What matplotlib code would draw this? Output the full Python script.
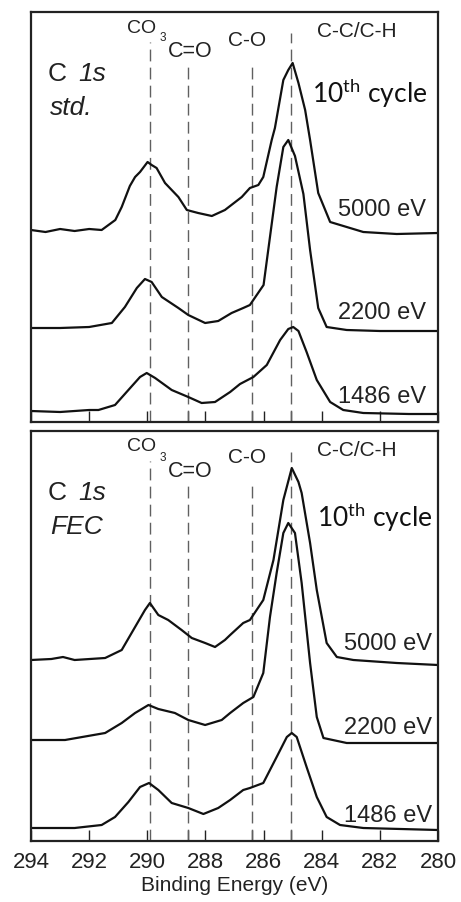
import numpy as np
import matplotlib
matplotlib.use("Agg")
import matplotlib.pyplot as plt

plt.rcParams['font.family'] = ['Liberation Sans', 'DejaVu Sans']
plt.rcParams['mathtext.fontset'] = 'custom'
plt.rcParams['mathtext.rm'] = 'Lato'
plt.rcParams['lines.scale_dashes'] = False

# ---- top panel (std.) : binding energy (eV) / intensity (a.u.)
be_std_5000 = [294.0, 293.5, 293.0, 292.5, 292.0, 291.57, 291.1, 290.88, 290.6, 290.42, 290.25,
               289.99, 289.85, 289.68, 289.39, 288.93, 288.64, 288.25, 287.78, 287.33, 286.75,
               286.47, 286.18, 286.01, 285.72, 285.61, 285.32, 285.15, 285.0, 284.8, 284.57,
               284.4, 284.12, 283.71, 283.14, 282.57, 281.42, 280.0]
int_std_5000 = [192, 190, 193, 191, 193, 192, 202, 215, 236, 245, 250,
                260, 257, 254, 239, 225, 212, 209, 206, 212, 225,
                234, 237, 245, 282, 294, 342, 352, 359, 339, 312,
                282, 229, 200, 195, 190, 188, 189]

be_std_2200 = [294.0, 293.0, 292.0, 291.22, 290.77, 290.36, 290.08, 289.85, 289.5, 288.93, 288.59,
               288.01, 287.56, 287.1, 286.7, 286.47, 286.0, 285.78, 285.55, 285.32, 285.15,
               284.92, 284.63, 284.4, 284.12, 283.83, 283.14, 282.0, 280.0]
int_std_2200 = [94, 94, 95, 99, 115, 134, 143, 140, 125, 114, 107,
                99, 101, 109, 114, 117, 137, 185, 235, 275, 282,
                266, 228, 172, 114, 95, 92, 91, 91]

be_std_1486 = [294.0, 293.0, 292.0, 291.68, 291.11, 290.65, 290.25, 290.02, 289.73, 289.16, 288.59,
               288.13, 287.67, 287.15, 286.81, 286.35, 285.89, 285.43, 285.15, 284.98, 284.8,
               284.52, 284.17, 283.71, 283.26, 282.57, 281.0, 280.0]
int_std_1486 = [11, 10, 12, 12, 17, 32, 45, 49, 44, 32, 25,
                19, 20, 30, 38, 45, 57, 82, 93, 95, 91,
                70, 42, 20, 12, 9, 8, 8]

# ---- bottom panel (FEC)
be_fec_5000 = [294.0, 293.3, 292.9, 292.5, 291.45, 290.88, 290.42, 290.08, 289.91, 289.62, 289.28,
               288.82, 288.47, 288.01, 287.67, 287.33, 287.15, 286.7, 286.47, 286.01, 285.66,
               285.32, 285.03, 284.8, 284.69, 284.4, 284.17, 283.83, 283.48, 282.91, 281.42, 280.0]
int_fec_5000 = [181, 182, 184, 181, 183, 191, 214, 231, 238, 226, 221,
                211, 203, 198, 194, 201, 206, 218, 221, 241, 281,
                341, 373, 359, 348, 298, 251, 198, 184, 181, 178, 176]

be_fec_2200 = [294.0, 292.83, 291.45, 290.88, 290.42, 289.96, 289.62, 289.05, 288.59, 288.01,
               287.44, 287.15, 286.7, 286.35, 286.01, 285.78, 285.55, 285.32, 285.15, 284.92,
               284.69, 284.4, 284.17, 283.94, 283.14, 280.0]
int_fec_2200 = [101, 101, 108, 118, 128, 136, 132, 128, 121, 116,
                121, 128, 138, 144, 168, 224, 268, 308, 318, 308,
                258, 178, 124, 103, 98, 98]

be_fec_1486 = [294.0, 292.5, 291.57, 291.11, 290.65, 290.25, 289.94, 289.62, 289.16, 288.59,
               288.07, 287.56, 287.15, 286.7, 286.47, 286.01, 285.55, 285.2, 285.03, 284.86,
               284.52, 284.17, 283.83, 283.37, 282.57, 280.0]
int_fec_1486 = [13, 13, 16, 24, 39, 54, 58, 51, 38, 33,
                27, 33, 41, 51, 53, 58, 84, 104, 108, 104,
                74, 44, 24, 16, 13, 11]

# reference positions of the components
peak_pos = [289.9, 288.6, 286.4, 285.05]
peak_top = [380, 359, 359, 389]
energies = ['5000 eV', '2200 eV', '1486 eV']

fig = plt.figure(figsize=(4.61, 9.02), dpi=100)
ax1 = fig.add_axes([31 / 461, 1 - 422 / 902, 407 / 461, 410 / 902])
ax2 = fig.add_axes([31 / 461, 1 - 841 / 902, 407 / 461, 410 / 902])

panels = [
    (ax1, [(be_std_5000, int_std_5000), (be_std_2200, int_std_2200), (be_std_1486, int_std_1486)],
     'std.', [206, 103, 19], 280.41, (284.33, 319), [389, 384, 365, 376, 385]),
    (ax2, [(be_fec_5000, int_fec_5000), (be_fec_2200, int_fec_2200), (be_fec_1486, int_fec_1486)],
     'FEC', [191, 107, 19], 280.2, (284.16, 314), [390, 383, 364, 378, 385]),
]

for ax, curves, name, lab_y, lab_x, cyc, ann_y in panels:
    for p, top in zip(peak_pos, peak_top):
        ax.plot([p, p], [0, top], color='#606060', lw=1.0, ls=(0, (8.5, 4.5)))
    for be, inten in curves:
        ax.plot(be, inten, color='#111111', lw=1.6)
    for e, y in zip(energies, lab_y):
        ax.text(lab_x, y, e, ha='right', va='baseline', fontsize=17, color='#222222')

    ax.text(293.42, 341, 'C', fontsize=19, va='baseline', color='#222222')
    ax.text(292.37, 341, '1s', fontsize=19, style='italic', va='baseline', color='#222222')
    ax.text(293.35, 307, name, fontsize=19, style='italic', va='baseline', color='#222222')
    ax.text(290.7, ann_y[0], 'CO', fontsize=14, va='baseline', color='#222222')
    ax.text(289.34, ann_y[1], '3', fontsize=8.5, ha='right', va='center', color='#222222')
    ax.text(289.3, ann_y[2], 'C=O', fontsize=15.5, va='baseline', color='#222222')
    ax.text(287.23, ann_y[3], 'C-O', fontsize=15, va='baseline', color='#222222')
    ax.text(284.17, ann_y[4], 'C-C/C-H', fontsize=15, va='baseline', color='#222222')
    ax.text(cyc[0], cyc[1], r'10$^{\mathrm{th}}$ cycle', fontsize=19, family='Lato',
            va='baseline', color='#111111')

    ax.set_xlim(294, 280)
    ax.set_ylim(0, 410)
    ax.set_yticks([])
    ax.set_xticks(range(294, 279, -2))
    ax.set_xticks(peak_pos[1:], minor=True)
    ax.tick_params(axis='x', which='both', direction='in', length=8, width=1,
                   labelsize=16, pad=8, colors='#222222')
    for s in ax.spines.values():
        s.set_linewidth(1.6)
        s.set_color('#222222')

ax1.tick_params(axis='x', labelbottom=False)
ax2.set_xlabel('Binding Energy (eV)', fontsize=15, labelpad=2, color='#222222')

fig.savefig('out.png', dpi=100)
